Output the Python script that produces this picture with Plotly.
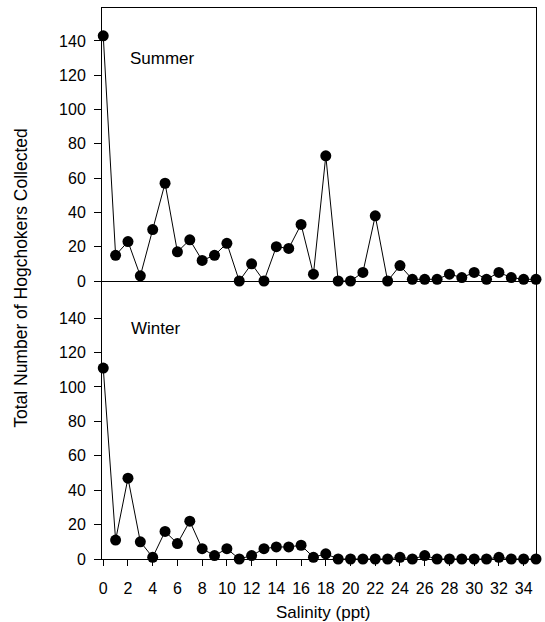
import plotly.graph_objects as go

salinity = list(range(0, 36))
summer = [143, 15, 23, 3, 30, 57, 17, 24, 12, 15, 22, 0, 10, 0, 20, 19, 33, 4,
          73, 0, 0, 5, 38, 0, 9, 1, 1, 1, 4, 2, 5, 1, 5, 2, 1, 1]
winter = [111, 11, 47, 10, 1, 16, 9, 22, 6, 2, 6, 0, 2, 6, 7, 7, 8, 1,
          3, 0, 0, 0, 0, 0, 1, 0, 2, 0, 0, 0, 0, 0, 1, 0, 0, 0]
y_ticks = [0, 20, 40, 60, 80, 100, 120, 140]
x_ticks = list(range(0, 36, 2))

FONT = "Liberation Sans, Arial, sans-serif"
mk = dict(color="black", size=11)
ln = dict(color="black", width=1)

fig = go.Figure()
fig.add_trace(go.Scatter(x=salinity, y=summer, mode="lines+markers", marker=mk,
                         line=ln, xaxis="x2", yaxis="y2", cliponaxis=False))
fig.add_trace(go.Scatter(x=salinity, y=winter, mode="lines+markers", marker=mk,
                         line=ln, xaxis="x", yaxis="y", cliponaxis=False))

split = 278 / 551
yax = dict(tickvals=y_ticks, ticks="outside", ticklen=7, tickcolor="black",
           ticklabelstandoff=5, automargin=False, mirror=True,
           showline=True, linecolor="black", linewidth=1, showgrid=False,
           zeroline=False, tickfont=dict(family=FONT, size=16, color="black"))

fig.update_layout(
    width=545, height=622,
    margin=dict(l=102, r=9, t=8, b=63),
    paper_bgcolor="white", plot_bgcolor="white",
    showlegend=False,
    font=dict(family=FONT, color="black"),
    xaxis=dict(range=[-0.1, 35], tickvals=x_ticks, ticks="outside", ticklen=6,
               tickcolor="black", showline=True, linecolor="black",
               ticklabelstandoff=9, automargin=False,
               showgrid=False, zeroline=False,
               tickfont=dict(family=FONT, size=16, color="black")),
    xaxis2=dict(range=[-0.1, 35], anchor="y2", showticklabels=False, ticks="",
                showline=True, mirror=True, linecolor="black", linewidth=1,
                showgrid=False, zeroline=False, matches="x"),
    yaxis=dict(yax, domain=[0, split], range=[0, 161.6]),
    yaxis2=dict(yax, domain=[split, 1], range=[0, 159.2]),
    annotations=[
        dict(text="Summer", xref="paper", yref="paper", x=0.06, y=0.909,
             xanchor="left", yanchor="middle", showarrow=False, font=dict(size=17)),
        dict(text="Winter", xref="paper", yref="paper", x=0.062, y=0.418,
             xanchor="left", yanchor="middle", showarrow=False, font=dict(size=17)),
        dict(text="Salinity (ppt)", xref="paper", yref="paper", x=0.509, y=-0.098,
             xanchor="center", yanchor="middle", showarrow=False, font=dict(size=17)),
        dict(text="Total Number of Hogchokers Collected", textangle=-90,
             xref="paper", yref="paper", x=-0.187, y=0.51, xanchor="center",
             yanchor="middle", showarrow=False, font=dict(size=17.5)),
    ],
)

# page body margin off so the 545x622 figure fills the window exactly
fig.write_html("out.html", config={"displayModeBar": False},
               post_script="document.body.style.margin='0';")
